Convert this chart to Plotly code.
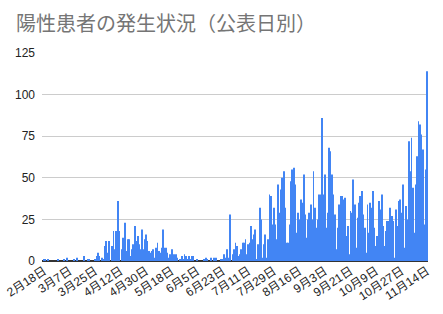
import re
import pandas as pd
import plotly.graph_objects as go

# Daily counts by publication date (2020)
feb = [1, 1, 0, 1, 0, 0, 0, 0, 0, 0, 1, 0]  # Feb 18-29
mar = [0, 0, 1, 0, 2, 0, 0, 0, 0, 1, 0, 2, 0, 0, 0, 0, 3, 0, 0, 1, 1, 0, 0, 0, 1, 3, 5, 3, 0, 2, 1]
apr = [9, 12, 5, 12, 0, 9, 18, 7, 18, 36, 18, 0, 7, 14, 23, 6, 13, 13, 3, 7,
       10, 21, 12, 15, 10, 7, 19, 7, 13, 16]
may = [12, 6, 5, 6, 7, 2, 8, 11, 6, 5, 8, 19, 8, 8, 5, 2, 4, 7, 4, 4,
       4, 2, 0, 1, 3, 1, 4, 3, 1, 3, 1]
jun = [3, 3, 0, 0, 1, 0, 0, 0, 0, 1, 2, 1, 0, 0, 2, 0, 2, 2, 0, 0,
       0, 1, 1, 4, 2, 7, 2, 28, 0, 4]
jul = [7, 11, 9, 3, 4, 7, 11, 11, 13, 4, 10, 11, 21, 13, 16, 19, 1, 10, 32, 25,
       2, 10, 16, 2, 13, 40, 39, 22, 32, 22, 13]
aug = [46, 29, 43, 50, 54, 32, 11, 11, 22, 48, 55, 56, 46, 17, 29, 25, 37, 35, 52, 28,
       14, 25, 29, 34, 25, 54, 32, 20, 25, 40, 40]
sep = [86, 40, 52, 20, 29, 68, 66, 52, 40, 28, 7, 20, 34, 39, 39, 37, 38, 15, 21, 4,
       30, 29, 49, 34, 8, 26, 35, 39, 42, 28]
oct_ = [20, 5, 34, 17, 35, 32, 42, 20, 9, 15, 36, 31, 40, 21, 9, 18, 24, 24, 32, 27,
        24, 2, 31, 21, 36, 37, 29, 46, 8, 33, 25]
nov = [72, 54, 74, 44, 17, 46, 63, 84, 82, 76, 67, 22, 55, 114]  # Nov 1-14

start_date = "2020-02-18"
tick_labels = ["2月18日", "3月7日", "3月25日", "4月12日", "4月30日", "5月18日", "6月5日",
               "6月23日", "7月11日", "7月29日", "8月16日", "9月3日", "9月21日", "10月9日",
               "10月27日", "11月14日"]
y_ticks = [0, 25, 50, 75, 100, 125]

values = feb + mar + apr + may + jun + jul + aug + sep + oct_ + nov
dates = pd.date_range(start_date, periods=len(values), freq="D")

tick_vals = []
for lab in tick_labels:
    m, d = re.match(r"(\d+)月(\d+)日", lab).groups()
    tick_vals.append(pd.Timestamp(year=2020, month=int(m), day=int(d)))

font_family = "Arial, 'Liberation Sans', 'Noto Sans CJK JP', sans-serif"

fig = go.Figure(go.Bar(x=dates, y=values, marker=dict(color="#4285f4", line=dict(width=0))))

x0 = dates[0] - pd.Timedelta(hours=int(1.4 * 24))
x1 = dates[-1] + pd.Timedelta(hours=int(0.7 * 24))

fig.update_layout(
    width=443, height=314,
    margin=dict(l=42, r=15, t=53, b=53),
    paper_bgcolor="white", plot_bgcolor="white",
    bargap=0.4,
    showlegend=False,
    title=dict(text="陽性患者の発生状況（公表日別）", x=16 / 443, xanchor="left",
               y=1 - 24 / 314, yanchor="middle", xref="container", yref="container",
               font=dict(family=font_family, size=20, color="#757575")),
    font=dict(family=font_family, size=12, color="#222222"),
)
fig.update_xaxes(
    type="date", range=[x0, x1], automargin=False,
    tickmode="array", tickvals=tick_vals, ticktext=tick_labels,
    tickangle=-33, showgrid=False, showline=False, ticks="",
    tickfont=dict(size=12, color="#222222"),
)
fig.update_yaxes(
    range=[0, 125], tickmode="array", tickvals=y_ticks, automargin=False,
    showgrid=True, gridcolor="#cccccc", gridwidth=1,
    zeroline=True, zerolinecolor="#333333", zerolinewidth=1.5,
    ticks="", ticklabelstandoff=6,
    tickfont=dict(size=12, color="#222222"),
)

fig.write_html("out.html")
